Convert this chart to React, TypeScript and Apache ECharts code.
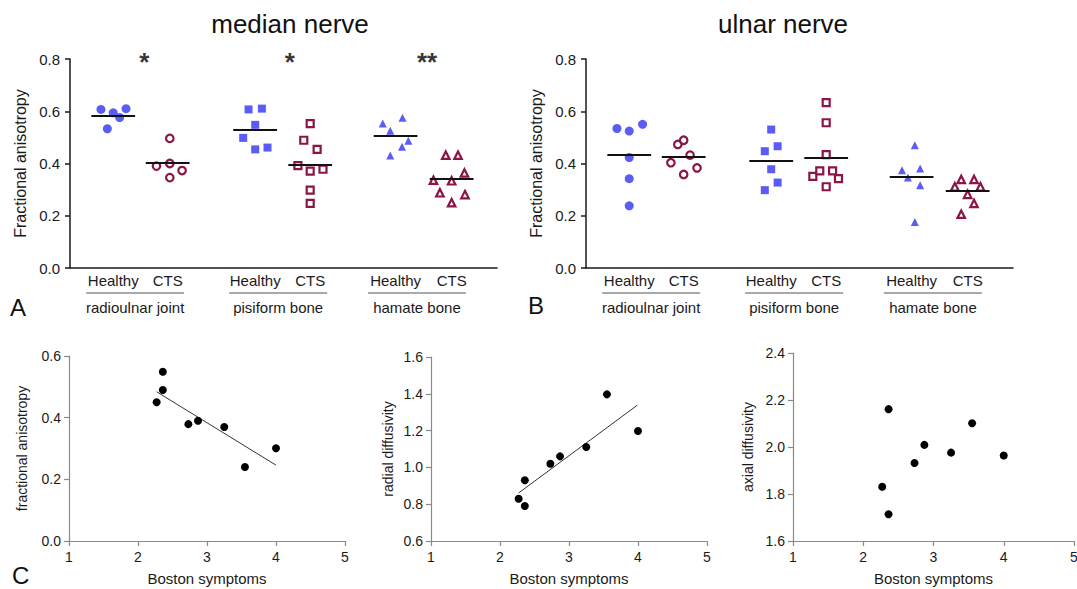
import React, { useEffect, useRef } from 'react';
import * as echarts from 'echarts';

// ---------- categories / labels ----------
const conditionLabels = ['Healthy', 'CTS', 'Healthy', 'CTS', 'Healthy', 'CTS'];
const siteNames = ['radioulnar joint', 'pisiform bone', 'hamate bone'];
const slotCenters = [0.81, 1.83, 3.47, 4.5, 6.1, 7.15];
const siteCenters = [1.22, 3.9, 6.5];
const sigMarks = ['*', '*', '**'];
const sigX = [1.39, 4.12, 6.69];
const sigY = 0.79;

// ---------- median nerve (fractional anisotropy) ----------
const mnRadHealthy = [0.607, 0.594, 0.576, 0.61, 0.533];
const mnRadHealthyJit = [-0.23, 0, 0.12, 0.24, -0.11];
const mnRadCTS = [0.496, 0.39, 0.4, 0.373, 0.346];
const mnRadCTSJit = [0.04, -0.21, 0.04, 0.27, 0.04];
const mnPisHealthy = [0.607, 0.61, 0.548, 0.498, 0.454, 0.461];
const mnPisHealthyJit = [-0.125, 0.125, 0, -0.225, 0, 0.23];
const mnPisCTS = [0.553, 0.489, 0.454, 0.392, 0.371, 0.378, 0.298, 0.247];
const mnPisCTSJit = [0, -0.12, 0.13, -0.23, 0, 0.24, 0, 0];
const mnHamHealthy = [0.553, 0.525, 0.575, 0.487, 0.464, 0.431];
const mnHamHealthyJit = [-0.24, -0.1, 0.13, 0.24, 0.12, -0.1];
const mnHamCTS = [0.432, 0.432, 0.364, 0.336, 0.334, 0.288, 0.281, 0.25];
const mnHamCTSJit = [-0.11, 0.12, 0.24, -0.34, 0, -0.22, 0.25, 0];
const mnCenterLines = [0.583, 0.401, 0.53, 0.397, 0.506, 0.342];

// ---------- ulnar nerve (fractional anisotropy) ----------
const unRadHealthy = [0.534, 0.524, 0.55, 0.423, 0.342, 0.238];
const unRadHealthyJit = [-0.23, 0, 0.25, 0, 0, 0];
const unRadCTS = [0.473, 0.489, 0.432, 0.403, 0.383, 0.358];
const unRadCTSJit = [-0.11, 0, 0.12, -0.24, 0.25, 0];
const unPisHealthy = [0.53, 0.447, 0.466, 0.378, 0.327, 0.298];
const unPisHealthyJit = [0, -0.12, 0.12, 0, 0.12, -0.12];
const unPisCTS = [0.633, 0.556, 0.434, 0.351, 0.372, 0.372, 0.342, 0.311];
const unPisCTSJit = [0, 0, 0, -0.25, -0.12, 0.12, 0.23, 0];
const unHamHealthy = [0.47, 0.374, 0.381, 0.346, 0.317, 0.176];
const unHamHealthyJit = [0.06, -0.18, 0.16, -0.07, 0.16, 0.06];
const unHamCTS = [0.339, 0.339, 0.311, 0.311, 0.282, 0.247, 0.206];
const unHamCTSJit = [-0.12, 0.12, -0.24, 0.24, 0, 0.12, -0.12];
const unCenterLines = [0.434, 0.424, 0.409, 0.422, 0.348, 0.294];

// ---------- panel C: correlations with Boston symptoms ----------
const bostonScores = [2.27, 2.36, 2.36, 2.73, 2.87, 3.25, 3.55, 4.0];
const faValues = [0.45, 0.549, 0.49, 0.379, 0.39, 0.37, 0.24, 0.301];
const rdValues = [0.83, 0.93, 0.79, 1.02, 1.06, 1.111, 1.397, 1.198];
const adValues = [1.831, 2.161, 1.714, 1.932, 2.009, 1.976, 2.101, 1.964];
const faFit = [[2.27, 0.484], [4.0, 0.246]];
const rdFit = [[2.27, 0.861], [3.99, 1.338]];

const FONT = '"Liberation Sans", Arial, Helvetica, sans-serif';
const BLUE = '#5a5cf4';
const RED = '#8c1446';
const DARK = '#1a1a1a';
const GREY = '#8a8a8a';
const symbols = ['circle', 'rect', 'triangle'];
const filledSizes = [9, 8, 8];
const openSizes = [7.5, 7, 7.5];

function groupSeries(values: number[][], jit: number[][], xIdx: number, yIdx: number) {
  return values.map((vals, k) => {
    const site = Math.floor(k / 2);
    const cts = k % 2 === 1;
    return {
      type: 'scatter',
      xAxisIndex: xIdx,
      yAxisIndex: yIdx,
      symbol: symbols[site],
      symbolSize: cts ? openSizes[site] : filledSizes[site],
      itemStyle: cts ? { color: '#fff', borderColor: RED, borderWidth: 2.2, opacity: 1 } : { color: BLUE, opacity: 1 },
      data: vals.map((v, i) => [slotCenters[k] + jit[k][i], v]),
      z: 3,
      silent: true,
    };
  });
}

function centerLineSeries(lines: number[], xIdx: number, yIdx: number) {
  return {
    type: 'lines',
    coordinateSystem: 'cartesian2d',
    xAxisIndex: xIdx,
    yAxisIndex: yIdx,
    lineStyle: { color: '#111', width: 2, opacity: 1 },
    data: lines.map((m, k) => ({ coords: [[slotCenters[k] - 0.41, m], [slotCenters[k] + 0.41, m]] })),
    z: 4,
    silent: true,
  };
}

function groupXAxes(grid: number) {
  return [
    {
      type: 'value', gridIndex: grid, min: 0, max: 8, position: 'bottom',
      axisLine: { show: true, lineStyle: { color: DARK, width: 1.5 } },
      axisTick: { show: false },
      splitLine: { show: false },
      axisLabel: {
        customValues: slotCenters, margin: 5, fontSize: 15, color: DARK, fontFamily: FONT,
        formatter: (v: number) => conditionLabels[slotCenters.indexOf(v)] ?? '',
      },
    },
    {
      type: 'value', gridIndex: grid, min: 0, max: 8, position: 'bottom', offset: 0,
      axisLine: { show: false }, axisTick: { show: false }, splitLine: { show: false },
      axisLabel: {
        customValues: siteCenters, margin: 32, fontSize: 15, color: DARK, fontFamily: FONT,
        formatter: (v: number) => siteNames[siteCenters.indexOf(v)] ?? '',
      },
    },
  ];
}

function faYAxis(grid: number) {
  return {
    type: 'value', gridIndex: grid, min: 0, max: 0.8, interval: 0.2,
    name: 'Fractional anisotropy', nameLocation: 'middle', nameGap: 42,
    nameTextStyle: { fontSize: 16, color: DARK, fontFamily: FONT },
    axisLine: { show: true, lineStyle: { color: DARK, width: 1.5 } },
    axisTick: { show: true, length: 5, lineStyle: { color: DARK, width: 1.5 } },
    splitLine: { show: false },
    axisLabel: { margin: 10, fontSize: 15, color: DARK, fontFamily: FONT, formatter: (v: number) => v.toFixed(1) },
  };
}

function cXAxis(grid: number) {
  return {
    type: 'value', gridIndex: grid, min: 1, max: 5, interval: 1,
    name: 'Boston symptoms', nameLocation: 'middle', nameGap: 30,
    nameTextStyle: { fontSize: 15, color: DARK, fontFamily: FONT },
    axisLine: { show: true, lineStyle: { color: GREY, width: 1.2 } },
    axisTick: { show: true, length: 5, lineStyle: { color: GREY, width: 1.2 } },
    splitLine: { show: false },
    axisLabel: { margin: 9, fontSize: 14, color: DARK, fontFamily: FONT },
  };
}

function cYAxis(grid: number, min: number, max: number, name: string, gap: number) {
  return {
    type: 'value', gridIndex: grid, min, max, interval: 0.2,
    name, nameLocation: 'middle', nameGap: gap,
    nameTextStyle: { fontSize: 14, color: DARK, fontFamily: FONT },
    axisLine: { show: true, lineStyle: { color: GREY, width: 1.2 } },
    axisTick: { show: true, length: 5, lineStyle: { color: GREY, width: 1.2 } },
    splitLine: { show: false },
    axisLabel: { margin: 8, fontSize: 14, color: DARK, fontFamily: FONT, formatter: (v: number) => v.toFixed(1) },
  };
}

function dotSeries(ys: number[], xIdx: number, yIdx: number) {
  return {
    type: 'scatter', xAxisIndex: xIdx, yAxisIndex: yIdx, symbol: 'circle', symbolSize: 8,
    itemStyle: { color: '#000', opacity: 1 }, data: bostonScores.map((x, i) => [x, ys[i]]), z: 3, silent: true,
  };
}

function fitSeries(fit: number[][], xIdx: number, yIdx: number) {
  return {
    type: 'line', xAxisIndex: xIdx, yAxisIndex: yIdx, data: fit, symbol: 'none',
    lineStyle: { color: '#333', width: 1 }, z: 2, silent: true,
  };
}

export default function App() {
  const ref = useRef<HTMLDivElement>(null);
  useEffect(() => {
    if (!ref.current) return;
    const chart = echarts.init(ref.current, undefined, { renderer: 'svg' });
    const mnValues = [mnRadHealthy, mnRadCTS, mnPisHealthy, mnPisCTS, mnHamHealthy, mnHamCTS];
    const mnJit = [mnRadHealthyJit, mnRadCTSJit, mnPisHealthyJit, mnPisCTSJit, mnHamHealthyJit, mnHamCTSJit];
    const unValues = [unRadHealthy, unRadCTS, unPisHealthy, unPisCTS, unHamHealthy, unHamCTS];
    const unJit = [unRadHealthyJit, unRadCTSJit, unPisHealthyJit, unPisCTSJit, unHamHealthyJit, unHamCTSJit];

    const option: any = {
      animation: false,
      backgroundColor: '#fff',
      textStyle: { fontFamily: FONT },
      grid: [
        { left: 70, top: 59, width: 427, height: 209, containLabel: false, outerBoundsMode: 'none' },
        { left: 586, top: 59, width: 427, height: 209, containLabel: false, outerBoundsMode: 'none' },
        { left: 69, top: 356, width: 276, height: 185, containLabel: false, outerBoundsMode: 'none' },
        { left: 431, top: 357, width: 276, height: 184, containLabel: false, outerBoundsMode: 'none' },
        { left: 793, top: 353, width: 281, height: 188, containLabel: false, outerBoundsMode: 'none' },
      ],
      xAxis: [...groupXAxes(0), ...groupXAxes(1), cXAxis(2), cXAxis(3), cXAxis(4)],
      yAxis: [
        faYAxis(0),
        faYAxis(1),
        cYAxis(2, 0, 0.6, 'fractional anisotropy', 40),
        cYAxis(3, 0.6, 1.6, 'radial diffusivity', 36),
        cYAxis(4, 1.6, 2.4, 'axial diffusivity', 38),
      ],
      series: [
        ...groupSeries(mnValues, mnJit, 0, 0),
        centerLineSeries(mnCenterLines, 0, 0),
        {
          type: 'scatter', xAxisIndex: 0, yAxisIndex: 0, symbolSize: 0, silent: true,
          data: sigMarks.map((m, i) => ({ name: m, value: [sigX[i], sigY] })),
          label: { show: true, position: 'inside', formatter: '{b}', fontSize: 26, fontWeight: 'bold', color: '#000', fontFamily: FONT },
        },
        ...groupSeries(unValues, unJit, 2, 1),
        centerLineSeries(unCenterLines, 2, 1),
        dotSeries(faValues, 4, 2),
        fitSeries(faFit, 4, 2),
        dotSeries(rdValues, 5, 3),
        fitSeries(rdFit, 5, 3),
        dotSeries(adValues, 6, 4),
      ],
    };
    chart.setOption(option);

    const underlines: any[] = [];
    [0, 2].forEach((xIdx) => {
      siteCenters.forEach((c) => {
        const px = chart.convertToPixel({ xAxisIndex: xIdx } as any, c) as unknown as number;
        underlines.push({
          type: 'line', silent: true,
          shape: { x1: px - 49, y1: 293, x2: px + 49, y2: 293 },
          style: { stroke: '#555', lineWidth: 1 },
        });
      });
    });
    const txt = (text: string, x: number, y: number, size: number, align = 'center') => ({
      type: 'text', silent: true, x, y,
      style: { text, fontSize: size, fill: '#111', fontFamily: FONT, textAlign: align, textVerticalAlign: 'middle' },
    });
    chart.setOption({
      graphic: [
        txt('median nerve', 290, 24, 26),
        txt('ulnar nerve', 783, 24, 26),
        txt('A', 10, 307, 24, 'left'),
        txt('B', 528, 305, 24, 'left'),
        txt('C', 12, 575, 24, 'left'),
        ...underlines,
      ],
    });
    return () => chart.dispose();
  }, []);
  return <div ref={ref} style={{ position: 'fixed', left: 0, top: 0, width: 1077, height: 589 }} />;
}
